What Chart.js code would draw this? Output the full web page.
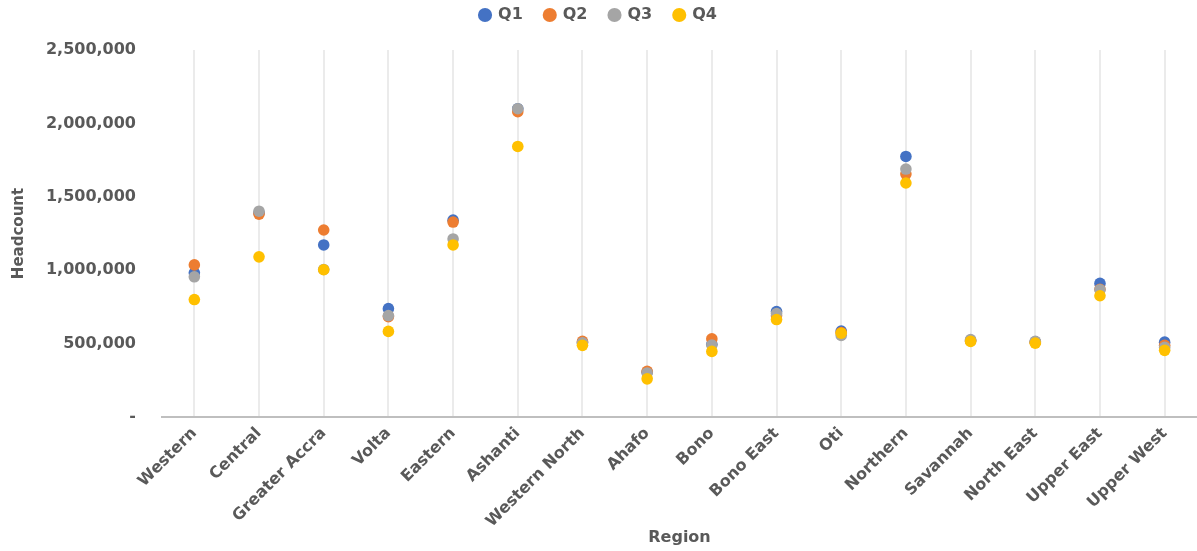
<!DOCTYPE html>
<html>
<head>
<meta charset="utf-8">
<script src="https://cdn.jsdelivr.net/npm/chart.js@4/dist/chart.umd.min.js"></script>
<style>
  html, body { margin: 0; padding: 0; background: #ffffff; }
  #wrap { width: 1197px; height: 551px; }
</style>
</head>
<body>
<div id="wrap"><canvas id="chart" width="1197" height="551"></canvas></div>
<script>
// Quarterly headcount by region
const regions = ["Western", "Central", "Greater Accra", "Volta", "Eastern", "Ashanti",
  "Western North", "Ahafo", "Bono", "Bono East", "Oti", "Northern",
  "Savannah", "North East", "Upper East", "Upper West"];

const q1 = [982000, 1390000, 1172000, 738000, 1341000, 2100000, 505000, 305000,
  495000, 718000, 585000, 1775000, 520000, 512000, 910000, 510000];
const q2 = [1036000, 1382000, 1274000, 684000, 1328000, 2080000, 515000, 311000,
  532000, 690000, 575000, 1655000, 520000, 510000, 870000, 488000];
const q3 = [955000, 1402000, 1005000, 691000, 1213000, 2100000, 505000, 300000,
  490000, 705000, 556000, 1689000, 528000, 515000, 867000, 474000];
const q4 = [800000, 1091000, 1003000, 583000, 1172000, 1843000, 488000, 260000,
  447000, 664000, 571000, 1594000, 515000, 503000, 826000, 454000];

const yTicks = [0, 500000, 1000000, 1500000, 2000000, 2500000];

const textColor = "#595959";
const fontFamily = "'DejaVu Sans', sans-serif";

function series(label, data, color, order) {
  return {
    label, data, order,
    showLine: false,
    backgroundColor: color,
    borderColor: color,
    borderWidth: 0,
    pointRadius: 5.8,
    pointHoverRadius: 5.8,
    pointStyle: "circle"
  };
}

// Leaves extra room between the legend row and the plot area
const legendGap = {
  id: "legendGap",
  afterInit(chart) {
    const legend = chart.legend;
    if (!legend) return;
    const fit = legend.fit;
    legend.fit = function () {
      fit.call(this);
      this.height += 17;
    };
  }
};

new Chart(document.getElementById("chart"), {
  type: "line",
  plugins: [legendGap],
  data: {
    labels: regions,
    datasets: [
      series("Q1", q1, "#4472C4", 4),
      series("Q2", q2, "#ED7D31", 3),
      series("Q3", q3, "#A5A5A5", 2),
      series("Q4", q4, "#FFC000", 1)
    ]
  },
  options: {
    responsive: false,
    animation: false,
    events: [],
    layout: { autoPadding: false, padding: { left: 0, right: 0, top: -15, bottom: 0 } },
    plugins: {
      tooltip: { enabled: false },
      legend: {
        position: "top",
        labels: {
          usePointStyle: true,
          pointStyle: "circle",
          boxWidth: 10,
          boxHeight: 10,
          padding: 22,
          color: textColor,
          font: { family: fontFamily, size: 16, weight: "bold" },
          sort: (a, b) => a.datasetIndex - b.datasetIndex
        }
      }
    },
    scales: {
      x: {
        type: "category",
        offset: true,
        grid: {
          display: true,
          offset: false,
          drawTicks: false,
          color: "#EBEBEB",
          lineWidth: 2
        },
        border: { display: true, color: "#BFBFBF", width: 2 },
        ticks: {
          color: textColor,
          font: { family: fontFamily, size: 16, weight: "bold" },
          minRotation: 45,
          maxRotation: 45,
          autoSkip: false,
          padding: 7
        },
        title: {
          display: true,
          text: "Region",
          color: textColor,
          font: { family: fontFamily, size: 16, weight: "bold" },
          padding: { top: 4, bottom: 4 }
        },
        afterFit(scale) {
          scale.height = 134;
          scale.paddingLeft = 0;
          scale.paddingRight = 0;
        }
      },
      y: {
        min: 0,
        max: 2500000,
        grid: { display: false, drawTicks: false },
        border: { display: false },
        afterBuildTicks(scale) { scale.ticks = yTicks.map(v => ({ value: v })); },
        ticks: {
          color: textColor,
          font: { family: fontFamily, size: 16, weight: "bold" },
          padding: 26,
          callback: v => v === 0 ? "-" : v.toLocaleString("en-US")
        },
        title: {
          display: true,
          text: "Headcount",
          color: textColor,
          font: { family: fontFamily, size: 15, weight: "bold" },
          padding: { top: 10, bottom: 0 }
        },
        afterFit(scale) { scale.width = 162; }
      }
    }
  }
});
</script>
</body>
</html>
